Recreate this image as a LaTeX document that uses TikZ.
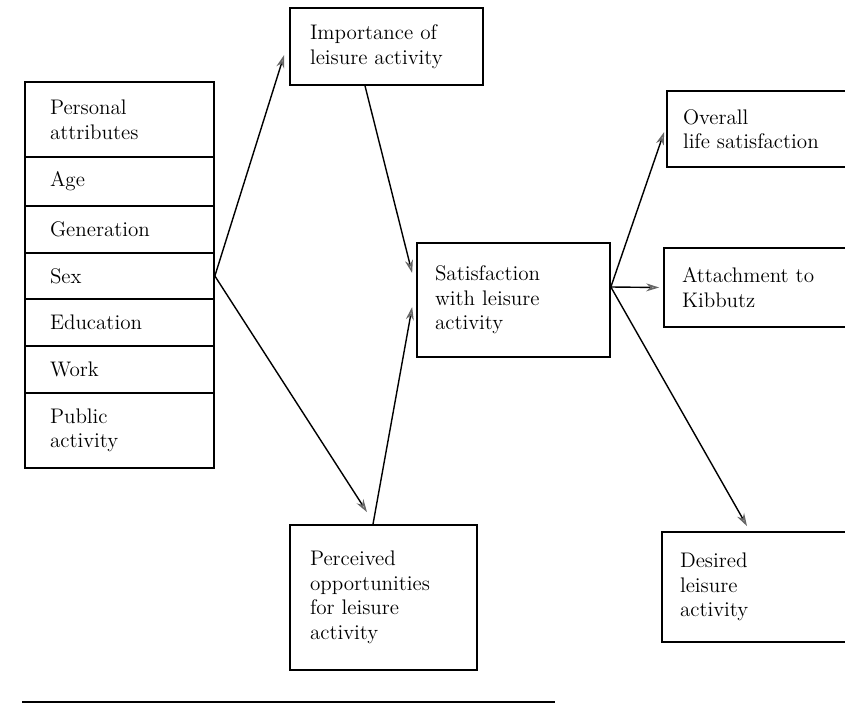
\documentclass[tikz,border=0pt]{standalone}
\usepackage{tikz}
\usetikzlibrary{arrows.meta}

\begin{document}
\begin{tikzpicture}[x=0.02cm, y=-0.02cm,
    box/.style={draw, line width=1pt, inner sep=0pt, align=left, font=\large},
    arr/.style={-{Stealth[length=0.26cm, width=0.16cm, color=gray!80!black, fill=gray!45]}, line width=0.8pt}]
\useasboundingbox (0, 0) rectangle (845, 709);
\clip (0, 0) rectangle (845, 709);

% Draw attribute column.
\node[box, minimum width=3.78cm, minimum height=1.5cm, text width=2.78cm]
    (pers) at (119.5, 119.5) {Personal\\attributes};
\node[box, minimum width=3.78cm, minimum height=0.98cm, text width=2.78cm]
    (age) at (119.5, 181.5) {Age};
\node[box, minimum width=3.78cm, minimum height=0.94cm, text width=2.78cm]
    (gen) at (119.5, 229.5) {Generation};
\node[box, minimum width=3.78cm, minimum height=0.92cm, text width=2.78cm]
    (sex) at (119.5, 276) {Sex};
\node[box, minimum width=3.78cm, minimum height=0.94cm, text width=2.78cm]
    (edu) at (119.5, 322.5) {Education};
\node[box, minimum width=3.78cm, minimum height=0.94cm, text width=2.78cm]
    (work) at (119.5, 369.5) {Work};
\node[box, minimum width=3.78cm, minimum height=1.5cm, text width=2.78cm]
    (pub) at (119.5, 430.5) {Public\\activity};

% Draw middle boxes.
\node[box, minimum width=3.86cm, minimum height=1.54cm, text width=3.06cm]
    (imp) at (386.5, 46.5) {Importance of\\leisure activity};
\node[box, minimum width=3.86cm, minimum height=2.28cm, text width=3.14cm]
    (sat) at (513.5, 300) {Satisfaction\\with leisure\\activity};
\node[box, minimum width=3.74cm, minimum height=2.9cm, text width=2.94cm]
    (per) at (383.5, 597.5) {Perceived\\opportunities\\for leisure\\activity};

% Draw outcome boxes.
\node[box, minimum width=3.86cm, minimum height=1.52cm, text width=3.22cm]
    (ovr) at (763.5, 129) {Overall\\life satisfaction};
\node[box, minimum width=3.92cm, minimum height=1.58cm, text width=3.2cm]
    (att) at (762, 287.5) {Attachment to\\Kibbutz};
\node[box, minimum width=3.96cm, minimum height=2.2cm, text width=3.24cm]
    (des) at (761, 587) {Desired\\leisure\\activity};

% Draw arrows.
\draw[arr] (sex.east) -- ([xshift=-0.1cm, yshift=-0.17cm]imp.west);
\draw[arr] (sex.east) -- ([xshift=-0.33cm, yshift=0.24cm]per.north);
\draw[arr] ([xshift=-0.43cm]imp.south) -- ([xshift=-0.08cm, yshift=0.54cm]sat.west);
\draw[arr] ([xshift=-0.21cm]per.north) -- ([xshift=-0.08cm, yshift=-0.14cm]sat.west);

\coordinate (satout) at ([yshift=0.26cm]sat.east);
\draw[arr] (satout) -- ([xshift=-0.04cm, yshift=-0.06cm]ovr.west);
\draw[arr] (satout) -- ([xshift=-0.08cm]att.west);
\draw[arr] (satout) -- ([xshift=-0.28cm, yshift=0.1cm]des.north);

% Draw rule.
\draw[line width=1pt] (22, 702) -- (555, 702);

\end{tikzpicture}
\end{document}
